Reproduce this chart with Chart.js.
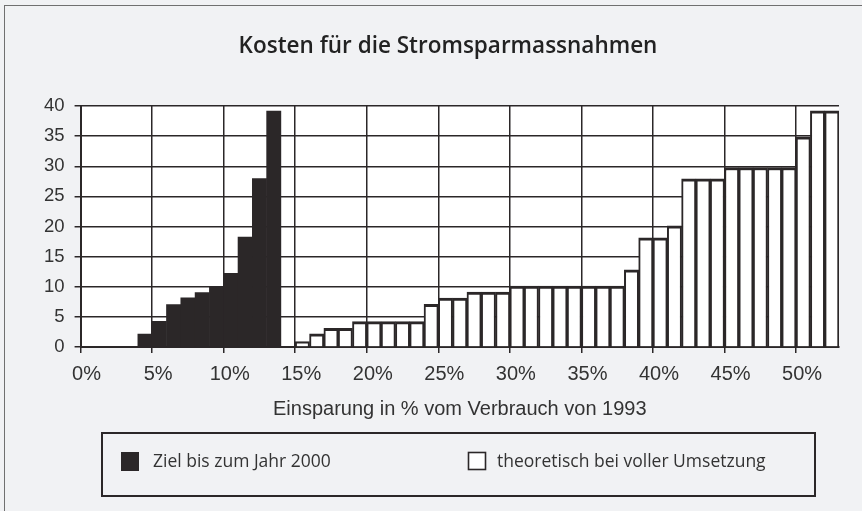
<!DOCTYPE html>
<html lang="de">
<head>
<meta charset="utf-8">
<title>Kosten für die Stromsparmassnahmen</title>
<script src="https://cdn.jsdelivr.net/npm/chart.js@4.4.1/dist/chart.umd.min.js"></script>
<style>
  html, body { margin: 0; padding: 0; background: #f1f2f4; }
  #wrap { width: 862px; height: 511px; }
</style>
</head>
<body>
<div id="wrap"><canvas id="kostenChart" width="862" height="511"></canvas></div>
<script>
// Werte (Einsparung in %, Kosten)
const zielAnteil = [4, 5, 6, 7, 8, 9, 10, 11, 12, 13];
const zielKosten = [2.2, 4.3, 7.1, 8.2, 9.1, 10, 12.3, 18.3, 28, 39.2];

const vollAnteil = [15, 16, 17, 18, 19, 20, 21, 22, 23, 24, 25, 26, 27, 28, 29, 30, 31, 32, 33,
  34, 35, 36, 37, 38, 39, 40, 41, 42, 43, 44, 45, 46, 47, 48, 49, 50, 51, 52];
const vollKosten = [0.9, 2.2, 3.1, 3.1, 4.2, 4.2, 4.2, 4.2, 4.2, 7.1, 8.1, 8.1, 9.1, 9.1, 9.1,
  10.1, 10.1, 10.1, 10.1, 10.1, 10.1, 10.1, 10.1, 12.8, 18.1, 18.1, 20.1, 27.9, 27.9, 27.9,
  29.8, 29.8, 29.8, 29.8, 29.8, 34.9, 39.2, 39.2];

const xTickWerte = [0, 5, 10, 15, 20, 25, 30, 35, 40, 45, 50];
const yTickWerte = [0, 5, 10, 15, 20, 25, 30, 35, 40];

const titel = "Kosten für die Stromsparmassnahmen";
const serienNamen = ["Ziel bis zum Jahr 2000", "theoretisch bei voller Umsetzung"];

const DUNKEL = "#2b2728";
const TEXT = "#333333";

// Hintergrund, Rahmen und weisse Zeichenflaeche
const hintergrund = {
  id: "hintergrund",
  beforeDraw(chart) {
    const { ctx, chartArea: a } = chart;
    ctx.save();
    ctx.fillStyle = "#f1f2f4";
    ctx.fillRect(0, 0, chart.width, chart.height);
    ctx.strokeStyle = "#707070";
    ctx.lineWidth = 1;
    ctx.strokeRect(4.5, 5.5, chart.width, chart.height);
    ctx.fillStyle = "#ffffff";
    ctx.fillRect(a.left, a.top, a.right - a.left, a.bottom - a.top);
    ctx.restore();
  }
};

// Titel oben und Legende im Kasten unter der Achse
const beschriftung = {
  id: "beschriftung",
  afterDraw(chart) {
    const { ctx } = chart;
    const ds = chart.data.datasets;
    ctx.save();
    ctx.fillStyle = "#222222";
    ctx.font = "600 22.5px 'Open Sans'";
    ctx.textAlign = "center";
    ctx.textBaseline = "middle";
    ctx.fillText(titel, 448, 47);

    ctx.textAlign = "left";
    ctx.strokeStyle = DUNKEL;
    ctx.lineWidth = 2;
    ctx.strokeRect(102, 433, 713, 63);

    ctx.font = "17.5px 'Open Sans'";

    // Eintrag 1: gefuelltes Quadrat
    ctx.fillStyle = ds[0].backgroundColor;
    ctx.fillRect(121, 452, 18, 19);
    ctx.fillStyle = TEXT;
    ctx.fillText(ds[0].label, 153, 462);

    // Eintrag 2: leeres Quadrat
    ctx.fillStyle = "#ffffff";
    ctx.fillRect(468, 452, 18, 18);
    ctx.strokeStyle = DUNKEL;
    ctx.lineWidth = 1.6;
    ctx.strokeRect(468.5, 452.5, 17, 17);
    ctx.fillStyle = TEXT;
    ctx.fillText(ds[1].label, 497, 462);
    ctx.restore();
  }
};

new Chart(document.getElementById("kostenChart"), {
  type: "bar",
  data: {
    datasets: [
      {
        label: serienNamen[0],
        data: zielAnteil.map((a, i) => ({ x: a + 0.5, y: zielKosten[i] })),
        backgroundColor: DUNKEL,
        borderWidth: 0,
        barPercentage: 1.04,
        categoryPercentage: 1,
        grouped: false
      },
      {
        label: serienNamen[1],
        data: vollAnteil.map((a, i) => ({ x: a + 0.5, y: vollKosten[i] })),
        backgroundColor: "#ffffff",
        borderColor: DUNKEL,
        borderWidth: { top: 3, left: 2, right: 2, bottom: 0 },
        borderSkipped: "start",
        barPercentage: 1,
        categoryPercentage: 1,
        grouped: false
      }
    ]
  },
  options: {
    responsive: false,
    animation: false,
    layout: { padding: { left: 34, right: 23, top: 106, bottom: 90 } },
    plugins: {
      legend: { display: false },
      tooltip: { enabled: false },
      title: { display: false }
    },
    scales: {
      x: {
        type: "linear",
        min: 0,
        max: 53,
        offset: false,
        afterBuildTicks: scale => { scale.ticks = xTickWerte.map(v => ({ value: v })); },
        grid: { offset: false, color: DUNKEL, lineWidth: 1.5, tickLength: 6, tickColor: DUNKEL },
        border: { display: true, color: DUNKEL, width: 2 },
        ticks: {
          color: TEXT,
          font: { family: "'Liberation Sans'", size: 20 },
          padding: 9,
          labelOffset: 6,
          maxRotation: 0,
          autoSkip: false,
          callback: v => v + "%"
        },
        title: {
          display: true,
          text: "Einsparung in % vom Verbrauch von 1993",
          color: TEXT,
          font: { family: "'Liberation Sans'", size: 20 },
          padding: { top: 2, bottom: 0 }
        }
      },
      y: {
        min: 0,
        max: 40,
        afterBuildTicks: scale => { scale.ticks = yTickWerte.map(v => ({ value: v })); },
        grid: { color: DUNKEL, lineWidth: 1.5, tickLength: 6, tickColor: DUNKEL },
        border: { display: true, color: DUNKEL, width: 2 },
        ticks: {
          color: TEXT,
          font: { family: "'Liberation Sans'", size: 18.5 },
          padding: 10
        }
      }
    }
  },
  plugins: [hintergrund, beschriftung]
});
</script>
</body>
</html>
